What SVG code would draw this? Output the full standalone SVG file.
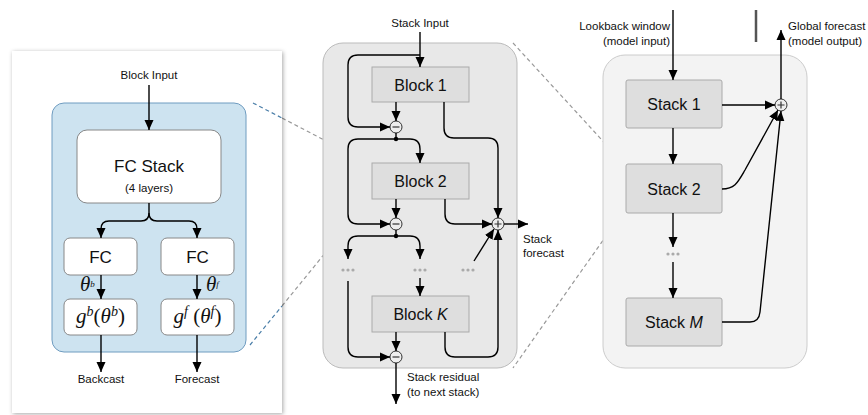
<svg xmlns="http://www.w3.org/2000/svg" width="868" height="415" viewBox="0 0 868 415">
<defs>
<marker id="ah" viewBox="0 0 10 10" refX="10" refY="5" markerWidth="10" markerHeight="10" markerUnits="userSpaceOnUse" orient="auto">
<path d="M0,0.5 L10,5 L0,9.5 z" fill="#000"/>
</marker>
<filter id="sh" x="-10%" y="-10%" width="120%" height="120%">
<feDropShadow dx="1" dy="1" stdDeviation="2" flood-color="#000" flood-opacity="0.35"/>
</filter>
<style>
text{font-family:"Liberation Sans",Arial,sans-serif;fill:#111}
.lbl{font-size:11.5px}
.big{font-size:16px}
.math{font-family:"Liberation Serif","Times New Roman",serif;font-size:21px;font-style:italic}
.c{fill:none;stroke:#000;stroke-width:1.4}
.a{marker-end:url(#ah)}
.blk{fill:#dedede;stroke:#aaa;stroke-width:1}
.op{fill:#eee;stroke:#333;stroke-width:1}
.dot{fill:#aaa}
.dashb{fill:none;stroke:#4a7ea8;stroke-width:1.2;stroke-dasharray:4,3}
.dashg{fill:none;stroke:#999;stroke-width:1.2;stroke-dasharray:4,3}
</style>
</defs>
<rect width="868" height="415" fill="#fff"/>

<!-- zoom guide lines (behind) -->
<g id="guides">
<line class="dashg" x1="282" y1="118" x2="368" y2="163"/>
<line class="dashg" x1="282" y1="306" x2="370" y2="198"/>
<line class="dashg" x1="513" y1="43" x2="623" y2="163"/>
<line class="dashg" x1="623" y1="212" x2="513" y2="368"/>
</g>

<!-- middle panel -->
<g id="stack-panel">
<rect x="323" y="43" width="194" height="325" rx="20" fill="#e8e8e8" stroke="#bbb"/>
</g>
<!-- right panel -->
<g id="model-panel">
<rect x="603" y="55" width="204" height="313" rx="22" fill="#f3f3f3" stroke="#ccc"/>
</g>

<!-- left panel -->
<g id="block-detail">
<rect x="12" y="51" width="270" height="362" fill="#fff" filter="url(#sh)"/>
<rect x="52" y="103" width="194" height="249" rx="12" fill="#cde3f0" stroke="#6f9cc0"/>
<line class="dashb" x1="253" y1="103" x2="282" y2="118"/>
<line class="dashb" x1="250" y1="345" x2="282" y2="306"/>
</g>
<g id="block-input"><text class="lbl" x="149" y="79" text-anchor="middle">Block Input</text></g>
<g id="fc-stack">
<rect x="77" y="130" width="144" height="73" rx="10" fill="#fff" stroke="#888"/>
<text x="149" y="172" text-anchor="middle" font-size="17">FC Stack</text>
<text x="149" y="192" text-anchor="middle" font-size="11.5">(4 layers)</text>
</g>
<g id="fc-b">
<rect x="64" y="238" width="73" height="37" rx="6" fill="#fff" stroke="#888"/>
<text x="100.5" y="262.5" text-anchor="middle" font-size="17">FC</text>
</g>
<g id="fc-f">
<rect x="161" y="238" width="73" height="37" rx="6" fill="#fff" stroke="#888"/>
<text x="197.5" y="262.5" text-anchor="middle" font-size="17">FC</text>
</g>
<g id="g-b">
<rect x="64" y="299" width="73" height="36" rx="6" fill="#fff" stroke="#888"/>
<text class="math" x="100.5" y="323" text-anchor="middle">g<tspan font-size="14" dy="-7">b</tspan><tspan dy="7" font-style="normal">(</tspan>θ<tspan font-size="14" dy="-7">b</tspan><tspan dy="7" font-style="normal">)</tspan></text>
</g>
<g id="g-f">
<rect x="161" y="299" width="73" height="36" rx="6" fill="#fff" stroke="#888"/>
<text class="math" x="197.5" y="323" text-anchor="middle">g<tspan font-size="14" dy="-7">f</tspan><tspan dy="7" font-style="normal"> (</tspan>θ<tspan font-size="14" dy="-7">f</tspan><tspan dy="7" font-style="normal">)</tspan></text>
</g>
<g id="theta-labels">
<text class="math" x="80" y="291" font-size="12">θ<tspan font-size="9" dy="-4">b</tspan></text>
<text class="math" x="206" y="291" font-size="12">θ<tspan font-size="9" dy="-4">f</tspan></text>
</g>
<g id="backcast"><text class="lbl" x="101" y="383" text-anchor="middle">Backcast</text></g>
<g id="forecast"><text class="lbl" x="197" y="383" text-anchor="middle">Forecast</text></g>

<!-- middle nodes -->
<g id="stack-input"><text class="lbl" x="420" y="27" text-anchor="middle">Stack Input</text></g>
<g id="block1"><rect class="blk" x="372" y="67" width="97" height="35"/><text class="big" x="420.5" y="90.5" text-anchor="middle">Block 1</text></g>
<g id="block2"><rect class="blk" x="372" y="163" width="97" height="36"/><text class="big" x="420.5" y="187" text-anchor="middle">Block 2</text></g>
<g id="blockK"><rect class="blk" x="372" y="296" width="97" height="36"/><text class="big" x="420.5" y="320" text-anchor="middle">Block <tspan font-style="italic">K</tspan></text></g>
<g id="minus1"><circle class="op" cx="396" cy="127" r="6"/><line x1="392.5" y1="127" x2="399.5" y2="127" stroke="#333" stroke-width="1.2"/></g>
<g id="minus2"><circle class="op" cx="396" cy="224" r="6"/><line x1="392.5" y1="224" x2="399.5" y2="224" stroke="#333" stroke-width="1.2"/></g>
<g id="minus3"><circle class="op" cx="396" cy="357" r="6"/><line x1="392.5" y1="357" x2="399.5" y2="357" stroke="#333" stroke-width="1.2"/></g>
<g id="plus-stack"><circle class="op" cx="498" cy="224" r="6"/><path d="M494.5,224 H501.5 M498,220.5 V227.5" stroke="#333" stroke-width="1.2"/></g>
<g id="dots-mid">
<circle class="dot" cx="343" cy="270" r="1.6"/><circle class="dot" cx="348" cy="270" r="1.6"/><circle class="dot" cx="353" cy="270" r="1.6"/>
<circle class="dot" cx="415" cy="270" r="1.6"/><circle class="dot" cx="420" cy="270" r="1.6"/><circle class="dot" cx="425" cy="270" r="1.6"/>
<circle class="dot" cx="463" cy="270" r="1.6"/><circle class="dot" cx="468" cy="270" r="1.6"/><circle class="dot" cx="473" cy="270" r="1.6"/>
</g>
<g id="stack-forecast"><text class="lbl" x="523" y="243">Stack</text><text class="lbl" x="523" y="257">forecast</text></g>
<g id="stack-residual"><text class="lbl" x="407" y="381">Stack residual</text><text class="lbl" x="407" y="396">(to next stack)</text></g>

<!-- right nodes -->
<g id="lookback"><text class="lbl" x="670" y="30" text-anchor="end">Lookback window</text><text class="lbl" x="670" y="45" text-anchor="end">(model input)</text></g>
<g id="global-forecast"><text class="lbl" x="788" y="30">Global forecast</text><text class="lbl" x="788" y="45">(model output)</text></g>
<g id="bar"><line x1="756" y1="10" x2="756" y2="42" stroke="#555" stroke-width="2.5"/></g>
<g id="stack1"><rect class="blk" x="626" y="80" width="96" height="48" rx="2"/><text class="big" x="674" y="110" text-anchor="middle">Stack 1</text></g>
<g id="stack2"><rect class="blk" x="626" y="164" width="96" height="49" rx="2"/><text class="big" x="674" y="195" text-anchor="middle">Stack 2</text></g>
<g id="stackM"><rect class="blk" x="626" y="298" width="96" height="48" rx="2"/><text class="big" x="674" y="328" text-anchor="middle">Stack <tspan font-style="italic">M</tspan></text></g>
<g id="plus-global"><circle class="op" cx="781" cy="105" r="6"/><path d="M777.5,105 H784.5 M781,101.5 V108.5" stroke="#333" stroke-width="1.2"/></g>
<g id="dots-right"><circle class="dot" cx="668" cy="254" r="1.6"/><circle class="dot" cx="673" cy="254" r="1.6"/><circle class="dot" cx="678" cy="254" r="1.6"/></g>

<!-- connectors -->
<g id="connectors">
<!-- left -->
<path class="c a" d="M149,85 V130"/>
<path class="c a" d="M149,203 V213 Q149,221 141,221 H109 Q101,221 101,229 V238"/>
<path class="c a" d="M149,213 Q149,221 157,221 H189 Q197,221 197,229 V238"/>
<path class="c a" d="M101,275 V299"/>
<path class="c a" d="M197,275 V299"/>
<path class="c a" d="M101,335 V372"/>
<path class="c a" d="M197,335 V372"/>
<!-- middle -->
<path class="c a" d="M420,32 V67"/>
<path class="c a" d="M420,55 H358 Q348,55 348,65 V117 Q348,127 358,127 H390"/>
<path class="c a" d="M396,102 V121"/>
<path class="c a" d="M444,102 V128 Q444,138 454,138 H488 Q498,138 498,148 V218"/>
<path class="c" d="M396,133 V139"/>
<circle cx="396" cy="139" r="2.2" fill="#000"/>
<path class="c a" d="M396,139 H410 Q420,139 420,149 V163"/>
<path class="c a" d="M396,139 H358 Q348,139 348,149 V214 Q348,224 358,224 H390"/>
<path class="c a" d="M396,199 V218"/>
<path class="c a" d="M445,199 V214 Q445,224 455,224 H492"/>
<path class="c" d="M396,230 V236"/>
<circle cx="396" cy="236" r="2.2" fill="#000"/>
<path class="c a" d="M396,236 H358 Q348,236 348,246 V259"/>
<path class="c a" d="M396,236 H410 Q420,236 420,246 V259"/>
<path class="c a" d="M348,281 V347 Q348,357 358,357 H390"/>
<path class="c a" d="M420,278 V296"/>
<path class="c a" d="M474,261 L494,229"/>
<path class="c a" d="M396,332 V351"/>
<path class="c a" d="M445,332 V347 Q445,357 455,357 H488 Q498,357 498,347 V230"/>
<path class="c a" d="M504,224 H528"/>
<path class="c a" d="M396,363 V404"/>
<!-- right -->
<path class="c a" d="M673,10 V80"/>
<path class="c a" d="M781,99 V30"/>
<path class="c a" d="M722,105 H775"/>
<path class="c a" d="M722,189 C735,189 738,182 745,170 L778,110"/>
<path class="c a" d="M722,322 H750 Q759,322 760,312 L781,111"/>
<path class="c a" d="M673,128 V164"/>
<path class="c a" d="M673,213 V247"/>
<path class="c a" d="M673,262 V298"/>
</g>
</svg>
